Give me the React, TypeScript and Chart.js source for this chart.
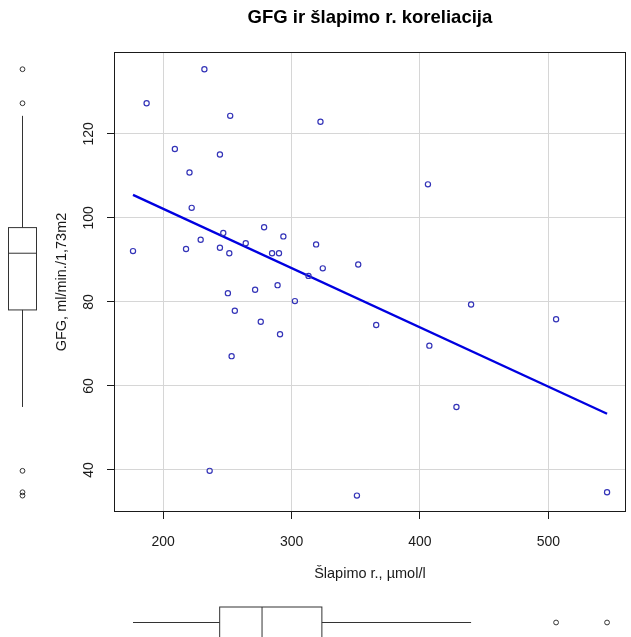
import React, { useEffect, useRef } from "react";
import { Chart, registerables } from "chart.js";

Chart.register(...registerables);

// ---- data ----
const slapimo = [
  176.5, 187.1, 209.1, 217.8, 220.5, 222.2, 229.2, 232.1, 236.2, 244.2,
  244.2, 246.8, 250.4, 252.2, 251.5, 253.3, 255.8, 264.3, 271.6, 276.0,
  278.6, 284.8, 289.1, 290.2, 291.0, 293.6, 302.6, 313.2, 319.1, 322.5,
  324.3, 350.9, 351.9, 365.9, 406.2, 407.3, 428.4, 439.8, 506.0, 545.7,
];
const gfg = [
  92.1, 127.3, 116.4, 92.6, 110.8, 102.4, 94.8, 135.4, 39.8, 115.1,
  92.9, 96.4, 82.1, 124.3, 91.6, 67.1, 77.9, 94.0, 82.9, 75.3,
  97.8, 91.6, 84.0, 91.6, 72.3, 95.6, 80.2, 86.2, 93.7, 122.9,
  88.0, 33.9, 88.9, 74.5, 108.0, 69.6, 55.0, 79.4, 75.9, 34.7,
];
const regX = [176.5, 545.7];
const regY = [105.5, 53.4];
const xTicks = [200, 300, 400, 500];
const yTicks = [40, 60, 80, 100, 120];
// boxplot stats: [lower whisker, Q1, median, Q3, upper whisker]
const gfgBoxStats = [55.0, 78.1, 91.6, 97.7, 124.3];
const gfgOutliers = [135.4, 127.3, 39.8, 34.7, 33.9];
const slapimoBoxStats = [176.5, 244.0, 277.0, 323.6, 439.8];
const slapimoOutliers = [506.0, 545.7];

const TITLE = "GFG ir šlapimo r. koreliacija";
const X_TITLE = "Šlapimo r., µmol/l";
const Y_TITLE = "GFG, ml/min./1,73m2";

const FONT = '"Liberation Sans", Arial, Helvetica, sans-serif';
const INK = "#1a1a1a";

const marginPlugin = {
  id: "rMargins",
  afterDraw(chart: any) {
    const { ctx, chartArea, scales } = chart;
    const x = scales.x;
    const y = scales.y;
    ctx.save();
    // frame
    ctx.strokeStyle = INK;
    ctx.lineWidth = 1;
    ctx.strokeRect(
      Math.round(chartArea.left) + 0.5,
      Math.round(chartArea.top) + 0.5,
      Math.round(chartArea.right - chartArea.left) - 1,
      Math.round(chartArea.bottom - chartArea.top) - 1
    );
    // rotated y tick labels
    ctx.fillStyle = INK;
    ctx.font = `14px ${FONT}`;
    ctx.textAlign = "center";
    ctx.textBaseline = "middle";
    for (const v of yTicks) {
      const py = y.getPixelForValue(v);
      ctx.save();
      ctx.translate(chartArea.left - 25, py);
      ctx.rotate(-Math.PI / 2);
      ctx.fillText(String(v), 0, 0);
      ctx.restore();
    }

    ctx.strokeStyle = "#333";
    ctx.lineWidth = 1;
    // left (vertical) boxplot of GFG
    {
      const cx = 22.5;
      const hw = 14;
      const [lo, q1, med, q3, hi] = gfgBoxStats.map((v) => y.getPixelForValue(v));
      ctx.beginPath();
      ctx.moveTo(cx, lo);
      ctx.lineTo(cx, q1);
      ctx.moveTo(cx, q3);
      ctx.lineTo(cx, hi);
      ctx.stroke();
      ctx.strokeRect(cx - hw, q3, hw * 2, q1 - q3);
      ctx.beginPath();
      ctx.moveTo(cx - hw, med);
      ctx.lineTo(cx + hw, med);
      ctx.stroke();
      for (const o of gfgOutliers) {
        ctx.beginPath();
        ctx.arc(cx, y.getPixelForValue(o), 2.4, 0, Math.PI * 2);
        ctx.stroke();
      }
    }
    // bottom (horizontal) boxplot of slapimo
    {
      const cy = 622.5;
      const hh = 15.5;
      const [lo, q1, med, q3, hi] = slapimoBoxStats.map((v) => x.getPixelForValue(v));
      ctx.beginPath();
      ctx.moveTo(lo, cy);
      ctx.lineTo(q1, cy);
      ctx.moveTo(q3, cy);
      ctx.lineTo(hi, cy);
      ctx.stroke();
      ctx.strokeRect(q1, cy - hh, q3 - q1, hh * 2);
      ctx.beginPath();
      ctx.moveTo(med, cy - hh);
      ctx.lineTo(med, cy + hh);
      ctx.stroke();
      for (const o of slapimoOutliers) {
        ctx.beginPath();
        ctx.arc(x.getPixelForValue(o), cy, 2.4, 0, Math.PI * 2);
        ctx.stroke();
      }
    }
    ctx.restore();
  },
};

export default function App() {
  const ref = useRef<HTMLCanvasElement | null>(null);
  useEffect(() => {
    document.body.style.margin = "0";
    const canvas = ref.current;
    if (!canvas) return;
    const points = slapimo.map((v, i) => ({ x: v, y: gfg[i] }));
    const line = regX.map((v, i) => ({ x: v, y: regY[i] }));
    const chart = new Chart(canvas, {
      type: "scatter",
      data: {
        datasets: [
          {
            data: points,
            pointStyle: "circle",
            pointRadius: 2.6,
            borderWidth: 1.2,
            borderColor: "#3434b8",
            backgroundColor: "rgba(0,0,0,0)",
          },
          {
            data: line,
            showLine: true,
            pointRadius: 0,
            borderColor: "#0000e0",
            borderWidth: 2.3,
            fill: false,
          },
        ],
      },
      options: {
        responsive: false,
        animation: false,
        devicePixelRatio: 1,
        layout: { padding: { left: 0, right: 3, top: 0, bottom: 0 } },
        plugins: {
          legend: { display: false },
          tooltip: { enabled: false },
          title: {
            display: true,
            fullSize: false,
            text: TITLE,
            color: "#000",
            font: { family: FONT, size: 18.5, weight: "bold" },
            padding: { top: 7, bottom: 22.8 },
          },
        },
        scales: {
          x: {
            type: "linear",
            min: 161.7,
            max: 560.3,
            afterBuildTicks: (s: any) => {
              s.ticks = xTicks.map((v) => ({ value: v }));
            },
            afterFit: (s: any) => {
              s.height = 125;
            },
            grid: { color: "#d6d6d6", lineWidth: 1, tickColor: INK, tickLength: 7, drawTicks: true },
            border: { display: false },
            ticks: {
              color: INK,
              font: { family: FONT, size: 14 },
              padding: 15,
              maxRotation: 0,
              autoSkip: false,
            },
            title: {
              display: true,
              text: X_TITLE,
              color: INK,
              font: { family: FONT, size: 14.5 },
              padding: { top: 0, bottom: 54 },
            },
          },
          y: {
            type: "linear",
            min: 30,
            max: 139.5,
            afterBuildTicks: (s: any) => {
              s.ticks = yTicks.map((v) => ({ value: v }));
            },
            afterFit: (s: any) => {
              s.width = 114;
            },
            grid: { color: "#d6d6d6", lineWidth: 1, tickColor: INK, tickLength: 7, drawTicks: true },
            border: { display: false },
            ticks: { display: false },
            title: {
              display: true,
              text: Y_TITLE,
              color: INK,
              font: { family: FONT, size: 14.5 },
              padding: { top: 53, bottom: 0 },
            },
          },
        },
      } as any,
      plugins: [marginPlugin],
    });
    return () => chart.destroy();
  }, []);
  return (
    <div style={{ width: 631, height: 637 }}>
      <canvas ref={ref} width={631} height={637} style={{ display: "block" }} />
    </div>
  );
}
